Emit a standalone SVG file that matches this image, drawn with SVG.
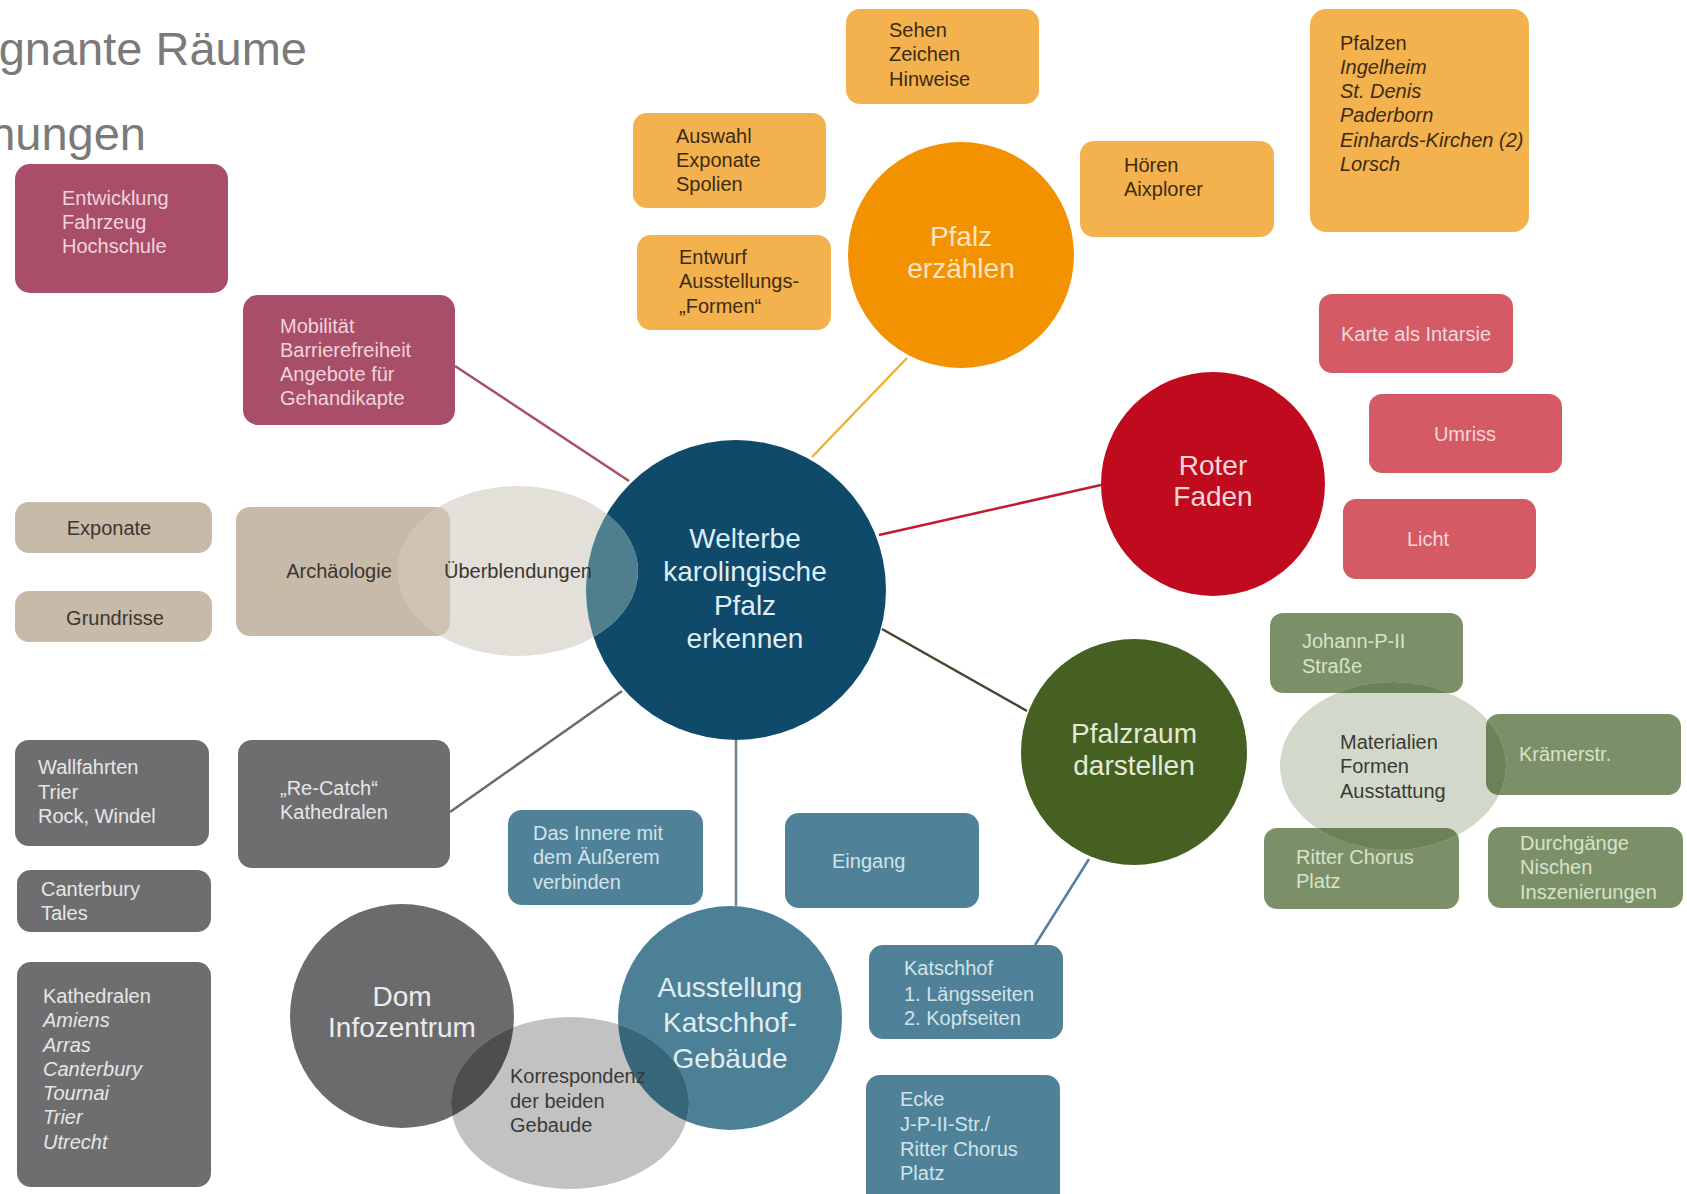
<svg xmlns="http://www.w3.org/2000/svg" width="1687" height="1194" viewBox="0 0 1687 1194">
<defs>
<style>
text{font-family:"Liberation Sans",Arial,Helvetica,sans-serif}
.t{font-size:20px}
.c{font-size:28px;text-anchor:middle}
.m{text-anchor:middle}
.i{font-style:italic}
.title{font-size:47px;fill:#7a7a7a;text-anchor:end}
.rose{fill:#a84e68}.trose{fill:#f2d3dc}
.org{fill:#f3b24d}.torg{fill:#3d2b12}
.red{fill:#d45b66}.tred{fill:#f7d6da}
.grn{fill:#7b9068}.tgrn{fill:#d9e2cc}
.bei{fill:#c7baa8}.tbei{fill:#3b3631}
.gry{fill:#6e6e70}.tgry{fill:#e6e6e6}
.blu{fill:#4f8298}.tblu{fill:#d3e3ea}
.conn line{stroke-width:2.5;fill:none}
</style>
<clipPath id="cu"><ellipse cx="518" cy="571" rx="120" ry="85"/></clipPath>
<clipPath id="cm"><ellipse cx="1393" cy="766" rx="113" ry="84"/></clipPath>
<clipPath id="ck"><ellipse cx="570" cy="1103" rx="119" ry="86"/></clipPath>
</defs>
<rect width="1687" height="1194" fill="#ffffff"/>

<g id="title">
<text class="title" x="307" y="65">gnante Räume</text>
<text class="title" x="146" y="150">hungen</text>
</g>

<g id="connectors" class="conn">
<line x1="455" y1="366" x2="629" y2="481" stroke="#a65068"/>
<line x1="907" y1="358" x2="812" y2="457" stroke="#f0b232"/>
<line x1="1101" y1="485" x2="879" y2="535" stroke="#c41a30"/>
<line x1="1027" y1="711" x2="882" y2="629" stroke="#4a4530"/>
<line x1="736" y1="740" x2="736" y2="906" stroke="#6e8290"/>
<line x1="622" y1="691" x2="450" y2="812" stroke="#6a6a6a"/>
<line x1="1089" y1="859" x2="1035" y2="945" stroke="#5a7c9e"/>
</g>

<g id="entwicklung">
<rect class="rose" x="15" y="164" width="213" height="129" rx="15"/>
<text class="t trose"><tspan x="62" y="205">Entwicklung</tspan><tspan x="62" y="229">Fahrzeug</tspan><tspan x="62" y="253">Hochschule</tspan></text>
</g>
<g id="mobilitaet">
<rect class="rose" x="243" y="295" width="212" height="130" rx="15"/>
<text class="t trose"><tspan x="280" y="333">Mobilität</tspan><tspan x="280" y="357">Barrierefreiheit</tspan><tspan x="280" y="381">Angebote für</tspan><tspan x="280" y="405">Gehandikapte</tspan></text>
</g>

<g id="sehen">
<rect class="org" x="846" y="9" width="193" height="95" rx="14"/>
<text class="t torg"><tspan x="889" y="37">Sehen</tspan><tspan x="889" y="61">Zeichen</tspan><tspan x="889" y="86">Hinweise</tspan></text>
</g>
<g id="auswahl">
<rect class="org" x="633" y="113" width="193" height="95" rx="14"/>
<text class="t torg"><tspan x="676" y="143">Auswahl</tspan><tspan x="676" y="167">Exponate</tspan><tspan x="676" y="191">Spolien</tspan></text>
</g>
<g id="entwurf">
<rect class="org" x="637" y="235" width="194" height="95" rx="14"/>
<text class="t torg"><tspan x="679" y="264">Entwurf</tspan><tspan x="679" y="288">Ausstellungs-</tspan><tspan x="679" y="313">„Formen“</tspan></text>
</g>
<g id="hoeren">
<rect class="org" x="1080" y="141" width="194" height="96" rx="14"/>
<text class="t torg"><tspan x="1124" y="172">Hören</tspan><tspan x="1124" y="196">Aixplorer</tspan></text>
</g>
<g id="pfalzen">
<rect class="org" x="1310" y="9" width="219" height="223" rx="16"/>
<text class="t torg"><tspan x="1340" y="50">Pfalzen</tspan><tspan class="i" x="1340" y="74">Ingelheim</tspan><tspan class="i" x="1340" y="98">St. Denis</tspan><tspan class="i" x="1340" y="122">Paderborn</tspan><tspan class="i" x="1340" y="147">Einhards-Kirchen (2)</tspan><tspan class="i" x="1340" y="171">Lorsch</tspan></text>
</g>
<g id="pfalz-erzaehlen">
<circle cx="961" cy="255" r="113" fill="#f39200"/>
<text class="c" fill="#fde3c0"><tspan x="961" y="246">Pfalz</tspan><tspan x="961" y="278">erzählen</tspan></text>
</g>

<g id="karte">
<rect class="red" x="1319" y="294" width="194" height="79" rx="13"/>
<text class="t m tred" x="1416" y="341">Karte als Intarsie</text>
</g>
<g id="umriss">
<rect class="red" x="1369" y="394" width="193" height="79" rx="13"/>
<text class="t m tred" x="1465" y="441">Umriss</text>
</g>
<g id="licht">
<rect class="red" x="1343" y="499" width="193" height="80" rx="13"/>
<text class="t m tred" x="1428" y="546">Licht</text>
</g>
<g id="roter-faden">
<circle cx="1213" cy="484" r="112" fill="#c00a1e"/>
<text class="c" fill="#f6d6d8"><tspan x="1213" y="475">Roter</tspan><tspan x="1213" y="506">Faden</tspan></text>
</g>

<g id="exponate">
<rect class="bei" x="15" y="502" width="197" height="51" rx="14"/>
<text class="t m tbei" x="109" y="535">Exponate</text>
</g>
<g id="grundrisse">
<rect class="bei" x="15" y="591" width="197" height="51" rx="14"/>
<text class="t m tbei" x="115" y="625">Grundrisse</text>
</g>
<g id="archaeologie">
<rect class="bei" x="236" y="507" width="214" height="129" rx="14"/>
<text class="t m tbei" x="339" y="578">Archäologie</text>
</g>

<g id="welterbe">
<circle cx="736" cy="590" r="150" fill="#0f4a6b"/>
<text class="c" fill="#dfeef5"><tspan x="745" y="548">Welterbe</tspan><tspan x="745" y="581">karolingische</tspan><tspan x="745" y="615">Pfalz</tspan><tspan x="745" y="648">erkennen</tspan></text>
</g>

<g id="ueberblendungen">
<ellipse cx="518" cy="571" rx="120" ry="85" fill="#e3dfd9"/>
<rect x="236" y="507" width="214" height="129" rx="14" fill="#cec3b3" clip-path="url(#cu)"/>
<circle cx="736" cy="590" r="150" fill="#4f7f8f" clip-path="url(#cu)"/>
<text class="t tbei" x="444" y="578">Überblendungen</text>
</g>

<g id="johann">
<rect class="grn" x="1270" y="613" width="193" height="80" rx="13"/>
<text class="t tgrn"><tspan x="1302" y="648">Johann-P-II</tspan><tspan x="1302" y="673">Straße</tspan></text>
</g>
<g id="kraemerstr">
<rect class="grn" x="1486" y="714" width="195" height="81" rx="13"/>
<text class="t tgrn" x="1519" y="761">Krämerstr.</text>
</g>
<g id="ritter">
<rect class="grn" x="1264" y="828" width="195" height="81" rx="13"/>
<text class="t tgrn"><tspan x="1296" y="864">Ritter Chorus</tspan><tspan x="1296" y="888">Platz</tspan></text>
</g>
<g id="durchgaenge">
<rect class="grn" x="1488" y="827" width="195" height="81" rx="13"/>
<text class="t tgrn"><tspan x="1520" y="850">Durchgänge</tspan><tspan x="1520" y="874">Nischen</tspan><tspan x="1520" y="899">Inszenierungen</tspan></text>
</g>
<g id="materialien">
<ellipse cx="1393" cy="766" rx="113" ry="84" fill="#d2d9cb"/>
<g clip-path="url(#cm)" fill="#6c8157">
<rect x="1270" y="613" width="193" height="80" rx="13"/>
<rect x="1486" y="714" width="195" height="81" rx="13"/>
<rect x="1264" y="828" width="195" height="81" rx="13"/>
</g>
<text class="t" fill="#3a3a34"><tspan x="1340" y="749">Materialien</tspan><tspan x="1340" y="773">Formen</tspan><tspan x="1340" y="798">Ausstattung</tspan></text>
</g>
<g id="pfalzraum">
<circle cx="1134" cy="752" r="113" fill="#456020"/>
<text class="c" fill="#e3ead5"><tspan x="1134" y="743">Pfalzraum</tspan><tspan x="1134" y="775">darstellen</tspan></text>
</g>

<g id="wallfahrten">
<rect class="gry" x="15" y="740" width="194" height="106" rx="14"/>
<text class="t tgry"><tspan x="38" y="774">Wallfahrten</tspan><tspan x="38" y="799">Trier</tspan><tspan x="38" y="823">Rock, Windel</tspan></text>
</g>
<g id="recatch">
<rect class="gry" x="238" y="740" width="212" height="128" rx="14"/>
<text class="t tgry"><tspan x="280" y="795">„Re-Catch“</tspan><tspan x="280" y="819">Kathedralen</tspan></text>
</g>
<g id="canterbury">
<rect class="gry" x="17" y="870" width="194" height="62" rx="14"/>
<text class="t tgry"><tspan x="41" y="896">Canterbury</tspan><tspan x="41" y="920">Tales</tspan></text>
</g>
<g id="kathedralen">
<rect class="gry" x="17" y="962" width="194" height="225" rx="14"/>
<text class="t tgry"><tspan x="43" y="1003">Kathedralen</tspan><tspan class="i" x="43" y="1027">Amiens</tspan><tspan class="i" x="43" y="1052">Arras</tspan><tspan class="i" x="43" y="1076">Canterbury</tspan><tspan class="i" x="43" y="1100">Tournai</tspan><tspan class="i" x="43" y="1124">Trier</tspan><tspan class="i" x="43" y="1149">Utrecht</tspan></text>
</g>

<g id="das-innere">
<rect class="blu" x="508" y="810" width="195" height="95" rx="14"/>
<text class="t tblu"><tspan x="533" y="840">Das Innere mit</tspan><tspan x="533" y="864">dem Äußerem</tspan><tspan x="533" y="889">verbinden</tspan></text>
</g>
<g id="eingang">
<rect class="blu" x="785" y="813" width="194" height="95" rx="14"/>
<text class="t tblu" x="832" y="868">Eingang</text>
</g>
<g id="katschhof">
<rect class="blu" x="869" y="945" width="194" height="94" rx="14"/>
<text class="t tblu"><tspan x="904" y="975">Katschhof</tspan><tspan x="904" y="1001">1. Längsseiten</tspan><tspan x="904" y="1025">2. Kopfseiten</tspan></text>
</g>
<g id="ecke">
<rect class="blu" x="866" y="1075" width="194" height="135" rx="14"/>
<text class="t tblu"><tspan x="900" y="1106">Ecke</tspan><tspan x="900" y="1131">J-P-II-Str./</tspan><tspan x="900" y="1156">Ritter Chorus</tspan><tspan x="900" y="1180">Platz</tspan></text>
</g>

<g id="dom">
<circle cx="402" cy="1016" r="112" fill="#6b6b6d"/>
<text class="c" fill="#ececec"><tspan x="402" y="1006">Dom</tspan><tspan x="402" y="1037">Infozentrum</tspan></text>
</g>
<g id="ausstellung">
<circle cx="730" cy="1018" r="112" fill="#4c8097"/>
<text class="c" fill="#e0edf2"><tspan x="730" y="997">Ausstellung</tspan><tspan x="730" y="1032">Katschhof-</tspan><tspan x="730" y="1068">Gebäude</tspan></text>
</g>
<g id="korrespondenz">
<ellipse cx="570" cy="1103" rx="119" ry="86" fill="#c2c2c2"/>
<circle cx="402" cy="1016" r="112" fill="#4e4e50" clip-path="url(#ck)"/>
<circle cx="730" cy="1018" r="112" fill="#386679" clip-path="url(#ck)"/>
<text class="t" fill="#3a3a3a"><tspan x="510" y="1083">Korrespondenz</tspan><tspan x="510" y="1108">der beiden</tspan><tspan x="510" y="1132">Gebaude</tspan></text>
</g>
</svg>
